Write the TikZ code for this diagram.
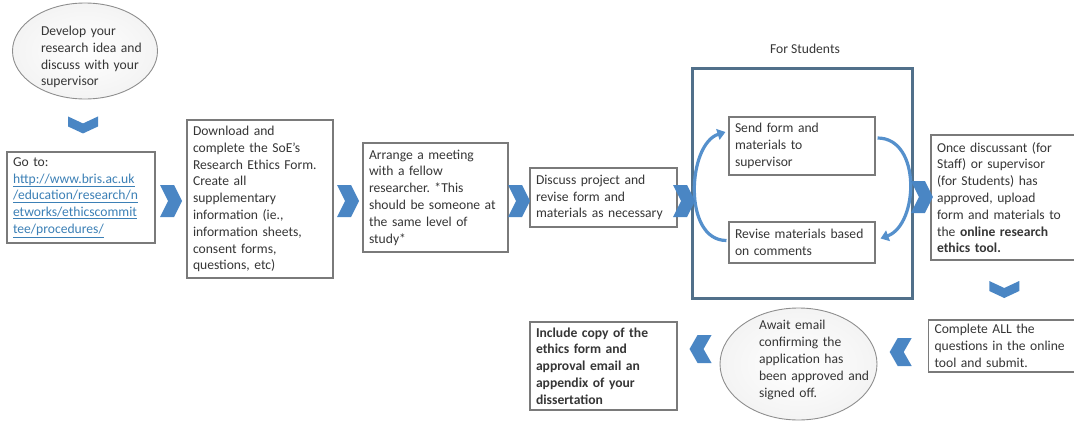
\documentclass[tikz,border=0pt]{standalone}
\usepackage{fontspec}
\setmainfont{Carlito}
\usetikzlibrary{arrows.meta,shapes.geometric,calc}

\definecolor{chevblue}{HTML}{4A86C4}
\definecolor{arcblue}{HTML}{5590CC}
\definecolor{framecol}{HTML}{51708A}
\definecolor{boxgray}{HTML}{7A7A7A}
\definecolor{txtgray}{HTML}{363636}
\definecolor{linkblue}{HTML}{3C80B6}

% chevron markers centred on a coordinate
\newcommand\chevright[1]{\fill[chevblue,shift={(#1)}] (-11,-16) -- (3,-16) -- (11,0) -- (3,16) -- (-11,16) -- (-3,0) -- cycle;}
\newcommand\chevleft[1]{\fill[chevblue,shift={(#1)}] (11,-14) -- (-3,-14) -- (-11,0) -- (-3,14) -- (11,14) -- (3,0) -- cycle;}
\newcommand\chevdown[1]{\fill[chevblue,shift={(#1)}] (-15,-9) -- (0,-2) -- (15,-9) -- (15,1) -- (0,8) -- (-15,1) -- cycle;}
\newcommand\lnk[1]{\textcolor{linkblue}{\underline{#1}}}

\begin{document}
\frenchspacing
\begin{tikzpicture}[x=1pt,y=-1pt,
  every node/.style={font=\fontsize{13.6}{16.8}\selectfont, text=txtgray},
  box/.style={draw=boxgray, line width=1.1pt, fill=white, rectangle,
    inner xsep=6pt, inner ysep=2pt, align=left},
  bubble/.style={draw=boxgray!85, line width=0.9pt, ellipse, inner sep=0pt,
    inner color=white, outer color=gray!9},
  plain/.style={align=left, inner sep=0pt},
  frame/.style={draw=framecol, line width=3pt, rectangle, inner sep=0pt},
  curv/.style={draw=arcblue, line width=3.2pt, -{Triangle[length=8pt,width=11pt]}}
]
\useasboundingbox (0,0) rectangle (1074,423);
\clip (0,0) rectangle (1074,423);

% ---- top row ----
\node[bubble, minimum width=145pt, minimum height=96pt] (idea) at (85,51) {};
\node[plain, text width=104pt] (ideatxt) at (93,57) {Develop your\\research idea and\\discuss with your\\supervisor};

\node[box, minimum width=148pt, minimum height=91pt, text width=136pt] (goto) at (81,197.5)
  {Go to:\\\lnk{http://www.bris.ac.uk}\\\lnk{/education/research/n}\\\lnk{etworks/ethicscommit}\\\lnk{tee/procedures/}};

\node[box, minimum width=146pt, minimum height=158pt, text width=134pt] (dl) at (260,199)
  {Download and\\complete the SoE’s\\Research Ethics Form.\\Create all\\supplementary\\information (ie.,\\information sheets,\\consent forms,\\questions, etc)};

\node[box, minimum width=145pt, minimum height=109pt, text width=133pt] (meet) at (435.5,197.5)
  {Arrange a meeting\\with a fellow\\researcher. *This\\should be someone at\\the same level of\\study*};

\node[box, minimum width=147pt, minimum height=59pt, text width=135pt] (disc) at (603.5,197.5)
  {Discuss project and\\revise form and\\materials as necessary};

% ---- student loop ----
\node[frame, minimum width=220pt, minimum height=230pt] (frame) at (802,183) {};
\node (fslabel) at ($(frame.north)+(3,-18)$) {For Students};

\node[box, minimum width=146pt, minimum height=58pt, text width=134pt] (send) at (802,146)
  {Send form and\\materials to\\supervisor};
\node[box, minimum width=146pt, minimum height=41pt, text width=134pt] (rev) at (802,242.5)
  {Revise materials based\\on comments};

\draw[curv] ([xshift=-2pt,yshift=2pt]rev.west) .. controls +(-44,0) and +(-38,12) .. ([xshift=-3pt,yshift=14pt]send.west);
\draw[curv] ([xshift=2pt,yshift=8pt]send.east) .. controls +(44,0) and +(38,-14) .. ([xshift=5pt,yshift=4pt]rev.east);

% ---- right column ----
\node[box, minimum width=145pt, minimum height=125pt, text width=145pt] (once) at (1009.5,197.5)
  {Once discussant (for\\Staff) or supervisor\\(for Students) has\\approved, upload\\form and materials to\\the \textbf{online research}\\\textbf{ethics tool.}};

\node[box, minimum width=146pt, minimum height=52pt, text width=145pt] (comp) at (1007,346)
  {Complete ALL the\\questions in the online\\tool and submit.};

% ---- bottom row ----
\node[bubble, minimum width=157pt, minimum height=112pt] (await) at (798.5,364) {};
\node[plain, text width=118pt] (awaittxt) at (818,360) {Await email\\confirming the\\application has\\been approved and\\signed off.};

\node[box, minimum width=147pt, minimum height=88pt, text width=135pt, font=\fontsize{13.6}{16.8}\selectfont\bfseries] (inc) at (603.5,366)
  {Include copy of the\\ethics form and\\approval email an\\appendix of your\\dissertation};

% ---- chevrons between steps ----
\coordinate (rowref) at (0,201);
\path ($(idea.south)!0.5!(goto.north)$) coordinate (d0);
\path ($(goto.east)!0.5!(dl.west)$) coordinate (m1);
\path ($(dl.east)!0.5!(meet.west)$) coordinate (m2);
\path ($(meet.east)!0.5!(disc.west)$) coordinate (m3);
\path ($(disc.east)!0.5!(frame.west)$) coordinate (m4);
\path ($(frame.east)!0.5!(once.west)$) coordinate (m5);
\path ($(once.south)!0.5!(comp.north)$) ++(-4,0) coordinate (d1);
\path ($(await.east)!0.5!(comp.west)$) ++(-2,-3) coordinate (l1);
\path ($(inc.east)!0.5!(await.west)$) ++(2,-16) coordinate (l2);
\coordinate (c1) at (m1 |- rowref);
\coordinate (c2) at (m2 |- rowref);
\coordinate (c3) at (m3 |- rowref);
\coordinate (c4) at (m4 |- rowref);
\coordinate (c5) at ([yshift=4pt]m5 |- rowref);

\chevdown{d0}
\chevright{c1}
\chevright{c2}
\chevright{c3}
\chevright{c4}
\chevright{c5}
\chevdown{d1}
\chevleft{l1}
\chevleft{l2}
\end{tikzpicture}
\end{document}
